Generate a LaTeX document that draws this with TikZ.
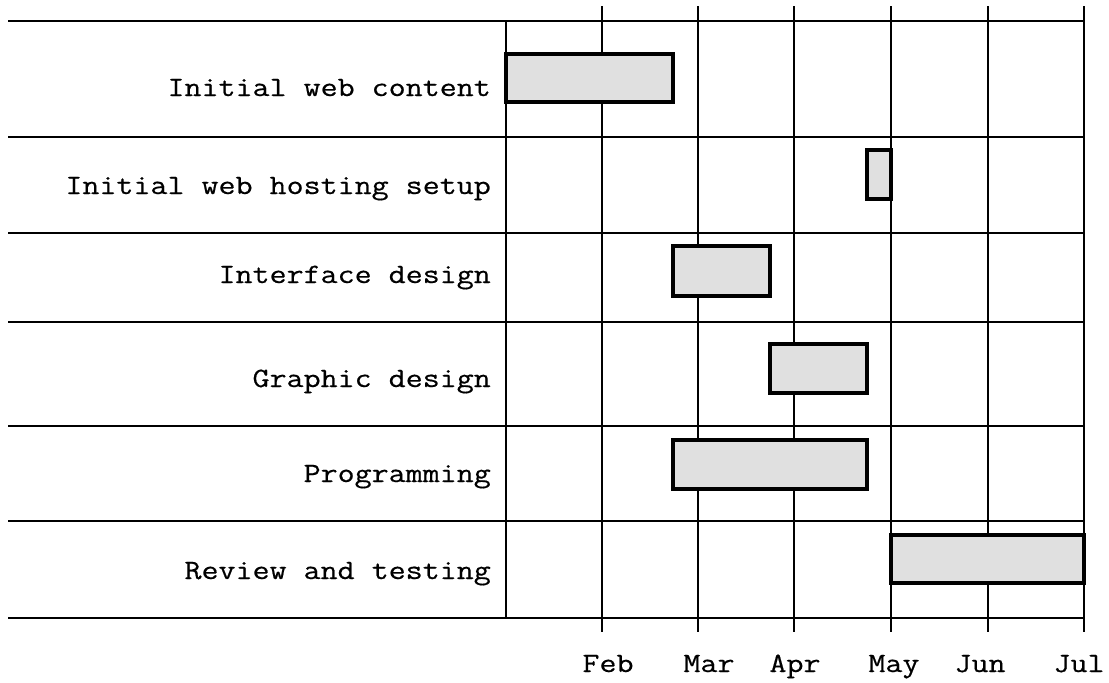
\documentclass[tikz,border=0pt]{standalone}
\usepackage{fontspec}
\setmonofont[FakeStretch=1.18,FakeBold=0.5]{Latin Modern Mono}
\usetikzlibrary{positioning}
\tikzstyle{task} = [rectangle, draw, line width=3.4pt, fill=black!12, inner sep=0pt]
\tikzstyle{lbl} = [anchor=base east, inner sep=0pt, font=\fontsize{28}{34}\selectfont\ttfamily]
\tikzstyle{mon} = [anchor=base, inner sep=0pt, font=\fontsize{28}{34}\selectfont\ttfamily]
\tikzstyle{rule} = [line width=2pt]

\begin{document}
\begin{tikzpicture}[x=1pt,y=-1pt]
  \useasboundingbox (0,0) rectangle (1109,683);

  % month lines
  \foreach \m/\x in {feb/602,mar/698,apr/794,may/891,jun/988,jul/1084}{
    \coordinate (\m top) at (\x,6);
    \coordinate (\m bot) at (\x,632);
    \draw[rule] (\m top) -- (\m bot);
  }
  \coordinate (chart top) at (506,21);
  \coordinate (chart bot) at (506,618);
  \draw[rule] (chart top) -- (chart bot);

  % row lines
  \foreach \r/\y in {r0/21,r1/137,r2/233,r3/322,r4/426,r5/521,r6/618}{
    \coordinate (\r l) at (8,\y);
    \coordinate (\r r) at (1084,\y);
    \draw[rule] (\r l) -- (\r r);
  }

  \node[lbl] (t1) at (491,96)  {Initial web content};
  \node[lbl] (t2) at (491,194) {Initial web hosting setup};
  \node[lbl] (t3) at (491,283) {Interface design};
  \node[lbl] (t4) at (491,387) {Graphic design};
  \node[lbl] (t5) at (491,482) {Programming};
  \node[lbl] (t6) at (491,579) {Review and testing};

  \node[task, minimum width=167pt, minimum height=48pt] (b1) at (589.5,78)  {};
  \node[task, minimum width=24pt,  minimum height=49pt] (b2) at (879,174.5) {};
  \node[task, minimum width=97pt,  minimum height=50pt] (b3) at (721.5,271) {};
  \node[task, minimum width=97pt,  minimum height=49pt] (b4) at (818.5,368.5) {};
  \node[task, minimum width=194pt, minimum height=49pt] (b5) at (770,464.5) {};
  \node[task, minimum width=193pt, minimum height=48pt] (b6) at (987.5,559) {};

  \node[mon] (feb) at (608,672)  {Feb};
  \node[mon] (mar) at (709,672)  {Mar};
  \node[mon] (apr) at (795,672)  {Apr};
  \node[mon] (may) at (894,672)  {May};
  \node[mon] (jun) at (980,672)  {Jun};
  \node[mon] (jul) at (1079,672) {Jul};
\end{tikzpicture}
\end{document}
